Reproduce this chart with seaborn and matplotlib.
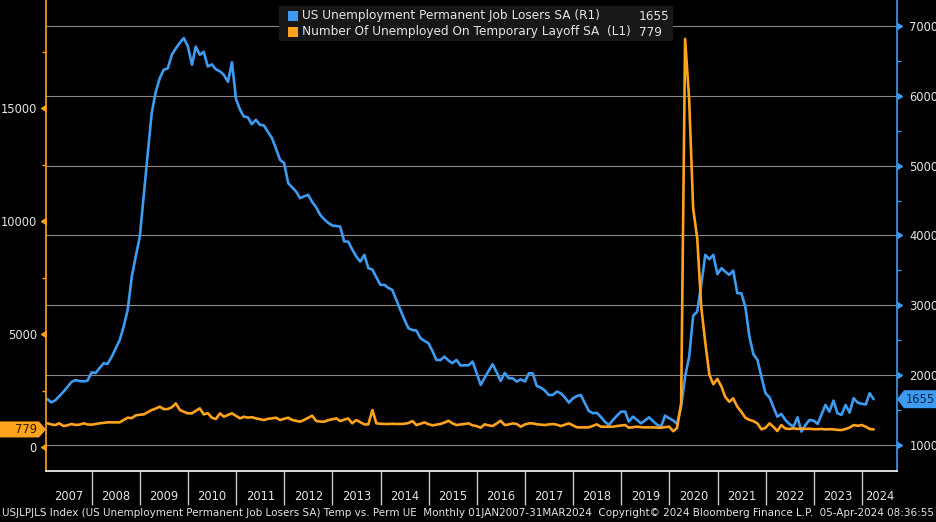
import numpy as np
import pandas as pd
import matplotlib
matplotlib.use('Agg')
import matplotlib.pyplot as plt
from matplotlib.markers import CARETLEFTBASE, CARETRIGHTBASE
from matplotlib.patches import Polygon, Rectangle
import seaborn as sns

# US unemployment, thousands, monthly Jan 2007 - Mar 2024
perm_job_losers = [
    1655, 1610, 1640, 1700, 1760, 1830, 1900, 1930, 1915, 1910, 1920, 2040,  # 2007
    2030, 2100, 2170, 2160, 2260, 2380, 2500, 2700, 2934, 3411, 3700, 3984,  # 2008
    4600, 5150, 5750, 6050, 6250, 6372, 6394, 6587, 6680, 6760, 6827, 6706,  # 2009
    6444, 6706, 6587, 6630, 6420, 6450, 6380, 6350, 6300, 6200, 6480, 5950,  # 2010
    5800, 5704, 5690, 5594, 5656, 5585, 5575, 5480, 5394, 5240, 5083, 5036,  # 2011
    4749, 4690, 4629, 4534, 4560, 4582, 4480, 4400, 4295, 4230, 4180, 4142,  # 2012
    4135, 4128, 3913, 3913, 3800, 3700, 3626, 3722, 3532, 3510, 3400, 3292,  # 2013
    3292, 3250, 3220, 3080, 2934, 2800, 2672, 2645, 2638, 2529, 2490, 2457,  # 2014
    2340, 2218, 2215, 2265, 2210, 2170, 2218, 2137, 2140, 2140, 2194, 2030,  # 2015
    1860, 1960, 2060, 2156, 2040, 1917, 2032, 1955, 1955, 1907, 1940, 1907,  # 2016
    2027, 2027, 1845, 1822, 1780, 1716, 1716, 1764, 1740, 1680, 1606, 1669,  # 2017
    1700, 1716, 1600, 1487, 1454, 1460, 1400, 1330, 1287, 1358, 1420, 1477,  # 2018
    1477, 1334, 1405, 1360, 1310, 1350, 1396, 1340, 1290, 1262, 1420, 1382,  # 2019
    1350, 1300, 1550, 1980, 2265, 2850, 2910, 3300, 3722, 3660, 3722, 3446,  # 2020
    3531, 3483, 3436, 3497, 3173, 3173, 2981, 2552, 2300, 2218, 1978, 1740,  # 2021
    1680, 1549, 1405, 1444, 1358, 1300, 1262, 1396, 1191, 1287, 1358, 1348,  # 2022
    1301, 1430, 1573, 1477, 1635, 1454, 1430, 1573, 1463, 1669, 1606, 1590,  # 2023
    1580, 1740, 1655,                                                        # 2024
]
temp_layoff = [
    1049, 1000, 973, 1049, 929, 960, 1020, 980, 990, 1049, 1000, 990,
    1020, 1049, 1070, 1092, 1092, 1092, 1092, 1200, 1298, 1280, 1400, 1430,
    1445, 1540, 1637, 1700, 1785, 1680, 1680, 1760, 1932, 1637, 1560, 1490,
    1490, 1600, 1711, 1445, 1500, 1300, 1239, 1490, 1342, 1420, 1490, 1380,
    1268, 1342, 1300, 1320, 1268, 1230, 1195, 1250, 1270, 1298, 1195, 1250,
    1298, 1200, 1160, 1121, 1200, 1290, 1386, 1150, 1130, 1121, 1190, 1230,
    1268, 1150, 1210, 1268, 1049, 1195, 1100, 1003, 1003, 1637, 1049, 1030,
    1020, 1020, 1030, 1020, 1020, 1030, 1060, 1150, 973, 1030, 1092, 1010,
    958, 990, 1020, 1080, 1164, 1050, 973, 1000, 1020, 1047, 960, 929,
    855, 1003, 960, 929, 1040, 1164, 973, 1000, 1047, 1018, 900, 1000,
    1047, 1047, 1010, 990, 973, 1000, 1018, 990, 929, 990, 1047, 960,
    870, 870, 870, 870, 940, 1003, 900, 900, 900, 900, 930, 950,
    973, 855, 880, 900, 880, 870, 870, 870, 860, 855, 880, 900,
    700, 840, 1947, 18063, 15343, 10565, 9234, 6172, 4623, 3205, 2778, 3015,
    2670, 2226, 2004, 2153, 1785, 1563, 1298, 1200, 1150, 1047, 782, 850,
    1047, 900, 708, 973, 820, 800, 830, 800, 820, 800, 810, 790,
    790, 800, 780, 790, 780, 760, 750, 800, 860, 973, 940, 973,
    900, 800, 779,
]

left_major = [0, 5000, 10000, 15000]
left_minor = [2500, 7500, 12500, 17500]
right_major = [1000, 2000, 3000, 4000, 5000, 6000, 7000]
right_minor = [1500, 2500, 3500, 4500, 5500, 6500]
years = list(range(2007, 2025))

perm_label = 'US Unemployment Permanent Job Losers SA (R1)'
temp_label = 'Number Of Unemployed On Temporary Layoff SA  (L1)'
footer = ('USJLPJLS Index (US Unemployment Permanent Job Losers SA) Temp vs. Perm UE  '
          'Monthly 01JAN2007-31MAR2024  Copyright\u00a9 2024 Bloomberg Finance L.P.  '
          '05-Apr-2024 08:36:55')

BLUE = '#3D9CF2'
ORANGE = '#FFA21C'
TXT = '#E4E4E4'
GRID = '#8A8A8A'
W, H = 937, 522

df = pd.DataFrame({
    'date': pd.date_range('2007-01-31', periods=len(perm_job_losers), freq='ME'),
    'perm': perm_job_losers,
    'temp': temp_layoff,
})

sns.set_theme(style='dark')
plt.rcParams['font.family'] = ['DejaVu Sans']
plt.rcParams['axes.facecolor'] = 'black'
plt.rcParams['figure.facecolor'] = 'black'


def fxy(x, y):
    # pixel position (from top-left) -> figure fraction
    return x / W, 1 - y / H


fig = plt.figure(figsize=(W / 100, H / 100), dpi=100)
ax = fig.add_axes([46 / W, 51 / H, 851 / W, 471 / H])
ax2 = ax.twinx()
ax.set_zorder(ax2.get_zorder() + 1)
ax.patch.set_visible(False)
ax2.patch.set_facecolor('black')

sns.lineplot(data=df, x='date', y='perm', ax=ax2, color=BLUE, lw=1.9)
sns.lineplot(data=df, x='date', y='temp', ax=ax, color=ORANGE, lw=1.9)

x0, x1 = pd.Timestamp('2007-01-19'), pd.Timestamp('2024-09-24')
ax.set_xlim(x0, x1)
ax.set_ylim(-1060, 19780)
ax2.set_ylim(627, 7372)
for a in (ax, ax2):
    a.set_xlabel('')
    a.set_ylabel('')
    a.grid(False)
ax2.set_yticks(right_major)
ax2.set_yticks(right_minor, minor=True)
ax2.yaxis.grid(True, which='major', color=GRID, lw=0.8)
ax.set_yticks(left_major)
ax.set_yticks(left_minor, minor=True)
ax.set_xticks([])

# spines
for s in ('top', 'right'):
    ax.spines[s].set_visible(False)
ax.spines['left'].set_color(ORANGE)
ax.spines['bottom'].set_color('white')
for s in ('top', 'left', 'bottom'):
    ax2.spines[s].set_visible(False)
ax2.spines['right'].set_color(BLUE)
for sp in list(ax.spines.values()) + list(ax2.spines.values()):
    sp.set_linewidth(1.2)

ax.tick_params(axis='y', which='major', length=0, pad=6.5, labelcolor=TXT, labelsize=8.3)
ax.tick_params(axis='y', which='minor', length=3, width=1, color=ORANGE, direction='out')
ax2.tick_params(axis='y', which='major', length=0, pad=9, labelcolor=TXT, labelsize=8.3)
ax2.tick_params(axis='y', which='minor', length=3, width=1, color=BLUE, direction='out')

# triangle tick marks
ax.plot(np.zeros(len(left_major)), left_major, ls='none', marker=CARETLEFTBASE, ms=4.5,
        color=ORANGE, transform=ax.get_yaxis_transform(), clip_on=False)
ax2.plot(np.ones(len(right_major)), right_major, ls='none', marker=CARETRIGHTBASE, ms=4.5,
         color=BLUE, transform=ax2.get_yaxis_transform(), clip_on=False)

# year bands below the axis
xt = ax.get_xaxis_transform()
starts = [pd.Timestamp(f'{y}-01-01') for y in years]
ax.vlines(starts[1:], 0, -0.073, transform=xt, clip_on=False, color='#C8C8C8', lw=1)
for i, y in enumerate(years):
    lo = max(starts[i], x0)
    hi = min(starts[i + 1], x1) if i + 1 < len(starts) else x1
    ax.text(lo + (hi - lo) / 2, -0.055, str(y), transform=xt, ha='center', va='center',
            color=TXT, fontsize=8.3)

fig.text(*fxy(2, 513), footer, color=TXT, fontsize=7.45, ha='left', va='center')

# legend box
bx, by = fxy(279, 41)
fig.add_artist(Rectangle((bx, by), 394 / W, 35 / H, transform=fig.transFigure,
                         facecolor='#171717', edgecolor='none', zorder=5))
for yy, col, lab, val in [(16, BLUE, perm_label, perm_job_losers[-1]),
                          (32, ORANGE, temp_label, temp_layoff[-1])]:
    sx, sy = fxy(288, yy + 5)
    fig.add_artist(Rectangle((sx, sy), 10 / W, 10 / H, transform=fig.transFigure,
                             facecolor=col, edgecolor='none', zorder=6))
    fig.text(*fxy(302, yy), lab, color=TXT, fontsize=8.7, va='center', ha='left', zorder=7)
    fig.text(*fxy(639, yy), str(val), color=TXT, fontsize=8.7, va='center', ha='left', zorder=7)

# last-value tags on the axes
yl = H - ax.transData.transform((0, temp_layoff[-1]))[1]
tag = [fxy(0, yl - 8), fxy(39, yl - 8), fxy(46, yl), fxy(39, yl + 8), fxy(0, yl + 8)]
fig.add_artist(Polygon(tag, closed=True, transform=fig.transFigure, facecolor=ORANGE,
                       edgecolor='none', zorder=6))
fig.text(*fxy(37, yl), str(temp_layoff[-1]), color='#2A1A00', fontsize=8.3, ha='right',
         va='center', zorder=7)

yr = H - ax2.transData.transform((0, perm_job_losers[-1]))[1]
tag = [fxy(897, yr), fxy(904, yr - 9), fxy(937, yr - 9), fxy(937, yr + 9), fxy(904, yr + 9)]
fig.add_artist(Polygon(tag, closed=True, transform=fig.transFigure, facecolor=BLUE,
                       edgecolor='none', zorder=6))
fig.text(*fxy(906, yr), str(perm_job_losers[-1]), color='#0B2140', fontsize=8.3, ha='left',
         va='center', zorder=7)

fig.savefig('out.png', dpi=100, facecolor='black')
